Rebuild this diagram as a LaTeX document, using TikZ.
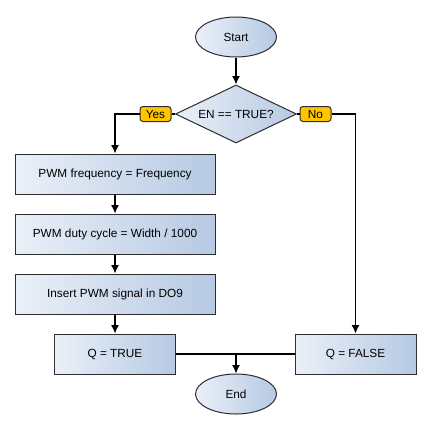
\documentclass[tikz,border=0pt]{standalone}
\usepackage{fontspec}
\setmainfont{Liberation Sans}
\usetikzlibrary{shapes.geometric,arrows.meta}
\definecolor{lite}{RGB}{234,240,248}
\definecolor{dark}{RGB}{182,201,227}
\definecolor{edge}{RGB}{45,45,45}
\definecolor{tag}{RGB}{255,198,0}
\begin{document}
\begin{tikzpicture}[x=1pt,y=-1pt,
  font=\fontsize{11.8}{13}\selectfont,
  shade/.style={draw=edge,line width=1pt,left color=lite,right color=dark,inner sep=0pt},
  procbox/.style={shade,rectangle,minimum width=200pt,minimum height=40pt},
  qbox/.style={shade,rectangle,minimum width=121pt,minimum height=40pt},
  term/.style={shade,ellipse,minimum width=81pt,minimum height=40pt},
  decide/.style={shade,diamond,aspect=2.08,minimum width=121pt,minimum height=58pt},
  tagbox/.style={draw=edge,line width=1pt,fill=tag,rounded corners=3pt,minimum width=31pt,minimum height=15pt,inner sep=0pt},
  conn/.style={line width=1.2pt,black},
  arr/.style={conn,-{Latex[length=8.5pt,width=8pt]}}]
\useasboundingbox (0,0) rectangle (430,429);
\node[term] (start) at (236,37) {Start};
\node[decide] (dec) at (236,114) {EN == TRUE?};
\node[tagbox] (yes) at (155.5,114) {Yes};
\node[tagbox] (no) at (315.5,114) {No};
\node[procbox] (b1) at (115,174) {PWM frequency = Frequency};
\node[procbox] (b2) at (115,234) {PWM duty cycle = Width / 1000};
\node[procbox] (b3) at (115,294) {Insert PWM signal in DO9};
\node[qbox] (qt) at (115,354) {Q = TRUE};
\node[qbox] (qf) at (355.5,354) {Q = FALSE};
\node[term] (end) at (236,394) {End};
\coordinate (j) at (236,354);
\draw[arr] (start) -- (dec);
\draw[conn] (dec.west) -- (yes.east);
\draw[conn] (dec.east) -- (no.west);
\draw[arr] (yes.west) -| (b1.north);
\draw[arr] (no.east) -| (qf.north);
\draw[arr] (b1) -- (b2);
\draw[arr] (b2) -- (b3);
\draw[arr] (b3) -- (qt);
\draw[conn] (qt.east) -- (qf.west);
\draw[arr] (j) -- (end);
\end{tikzpicture}
\end{document}
